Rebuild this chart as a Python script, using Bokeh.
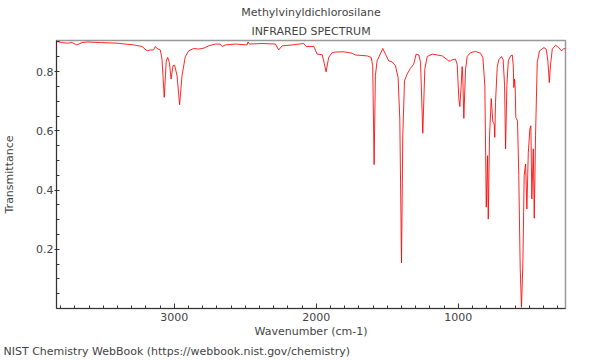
from bokeh.plotting import figure
from bokeh.models import Range1d, FixedTicker, Title
from bokeh.embed import file_html
from bokeh.resources import INLINE

# ---- data ----
wavenumber = [3822, 3791, 3756, 3721, 3686, 3650, 3615, 3521, 3404, 3287,
              3228, 3192, 3169, 3146, 3134, 3122, 3099, 3087, 3071, 3057,
              3047, 3035, 3023, 3009, 2998, 2981, 2963, 2946, 2923, 2899,
              2864, 2829, 2794, 2758, 2711, 2676, 2664, 2641, 2570, 2488,
              2481, 2471, 2382, 2288, 2265, 2241, 2171, 2089, 2072, 2018,
              1994, 1959, 1948, 1931, 1913, 1889, 1865, 1807, 1748, 1724,
              1642, 1614, 1603, 1593, 1584, 1572, 1553, 1532, 1513, 1490,
              1466, 1443, 1424, 1412, 1400, 1391, 1379, 1360, 1337, 1314,
              1297, 1278, 1266, 1250, 1236, 1219, 1184, 1113, 1078, 1067,
              1055, 1043, 1020, 1008, 996, 989, 980, 973, 968, 961,
              949, 937, 914, 879, 844, 827, 813, 803, 794, 789,
              780, 768, 757, 747, 743, 738, 726, 715, 696, 684,
              674, 667, 658, 648, 632, 620, 613, 609, 604, 599,
              595, 583, 574, 564, 555, 545, 536, 526, 517, 507,
              496, 489, 482, 472, 465, 456, 444, 428, 397, 381,
              369, 359, 350, 338, 315, 292, 273, 257, 245]
transmittance = [0.901, 0.898, 0.896, 0.898, 0.890, 0.898, 0.900, 0.898, 0.896, 0.890,
                 0.885, 0.870, 0.873, 0.873, 0.885, 0.878, 0.873, 0.842, 0.713, 0.836,
                 0.848, 0.831, 0.775, 0.820, 0.822, 0.786, 0.688, 0.786, 0.850, 0.870,
                 0.878, 0.876, 0.879, 0.887, 0.893, 0.893, 0.885, 0.890, 0.893, 0.890,
                 0.900, 0.893, 0.895, 0.893, 0.873, 0.887, 0.890, 0.895, 0.885, 0.885,
                 0.859, 0.857, 0.836, 0.799, 0.848, 0.864, 0.866, 0.867, 0.862, 0.856,
                 0.853, 0.848, 0.820, 0.486, 0.786, 0.836, 0.856, 0.878, 0.859, 0.836,
                 0.833, 0.820, 0.780, 0.640, 0.154, 0.583, 0.769, 0.792, 0.811, 0.825,
                 0.859, 0.856, 0.831, 0.592, 0.808, 0.851, 0.859, 0.853, 0.840, 0.836,
                 0.836, 0.840, 0.842, 0.825, 0.707, 0.682, 0.752, 0.817, 0.775, 0.642,
                 0.808, 0.851, 0.864, 0.868, 0.862, 0.848, 0.752, 0.342, 0.516, 0.302,
                 0.583, 0.709, 0.631, 0.623, 0.578, 0.696, 0.814, 0.840, 0.851, 0.840,
                 0.752, 0.539, 0.752, 0.836, 0.853, 0.856, 0.820, 0.746, 0.775, 0.741,
                 0.645, 0.634, 0.449, 0.134, 0.004, 0.156, 0.449, 0.488, 0.336, 0.527,
                 0.606, 0.617, 0.370, 0.539, 0.305, 0.583, 0.831, 0.870, 0.881, 0.876,
                 0.836, 0.763, 0.825, 0.876, 0.889, 0.881, 0.870, 0.878, 0.876]

x_major_ticks = [1000, 2000, 3000]
x_minor_ticks = [w for w in range(300, 3900, 100) if w not in (1000, 2000, 3000)]
y_major_ticks = [0.2, 0.4, 0.6, 0.8]
y_minor_ticks = [0.05, 0.1, 0.15, 0.25, 0.3, 0.35, 0.45, 0.5, 0.55, 0.65, 0.7, 0.75, 0.85, 0.9]

title_line_1 = "Methylvinyldichlorosilane"
title_line_2 = "INFRARED SPECTRUM"
x_label = "Wavenumber (cm-1)"
y_label = "Transmittance"
footer_text = "NIST Chemistry WebBook (https://webbook.nist.gov/chemistry)"

FONT = "DejaVu Sans"
FS = "11px"

p = figure(width=600, height=360, output_backend="svg", toolbar_location=None,
           x_range=Range1d(3830, 245), y_range=Range1d(0.0, 0.905),
           min_border_left=56, min_border_right=35, min_border_top=40, min_border_bottom=52)

p.line(wavenumber, transmittance, line_color="#ff0000", line_width=1, line_alpha=0.85)

# titles
t2 = Title(text=title_line_2, align="center", text_font=FONT, text_font_size=FS,
           text_font_style="normal", standoff=6)
p.add_layout(t2, "above")
p.title.text = title_line_1
p.title.align = "center"
p.title.text_font = FONT
p.title.text_font_size = FS
p.title.text_font_style = "normal"
p.title.standoff = 2

# footer
foot = Title(text=footer_text, align="left", offset=-53, text_font=FONT, text_font_size=FS,
             text_font_style="normal", standoff=4)
p.add_layout(foot, "below")

p.xgrid.visible = False
p.ygrid.visible = False
p.background_fill_color = "white"
p.border_fill_color = "white"
p.outline_line_color = "#999999"
p.outline_line_width = 1.5

xa = p.xaxis[0]
xa.ticker = FixedTicker(ticks=x_major_ticks, minor_ticks=x_minor_ticks)
xa.axis_label = x_label
xa.axis_label_text_font = FONT
xa.axis_label_text_font_size = FS
xa.axis_label_text_font_style = "normal"
xa.axis_label_standoff = 1
xa.major_label_text_font = FONT
xa.major_label_text_font_size = FS
xa.major_label_standoff = 4
xa.major_tick_in = 5
xa.major_tick_out = 0
xa.minor_tick_in = 3
xa.minor_tick_out = 0
xa.axis_line_color = "#333333"
xa.major_tick_line_color = "#333333"
xa.minor_tick_line_color = "#333333"

ya = p.yaxis[0]
ya.ticker = FixedTicker(ticks=y_major_ticks, minor_ticks=y_minor_ticks)
ya.axis_label = y_label
ya.axis_label_text_font = FONT
ya.axis_label_text_font_size = FS
ya.axis_label_text_font_style = "normal"
ya.axis_label_standoff = 17
ya.major_label_text_font = FONT
ya.major_label_text_font_size = FS
ya.major_label_standoff = 1
ya.major_tick_in = 3
ya.major_tick_out = 2
ya.minor_tick_in = 3
ya.minor_tick_out = 0
ya.axis_line_color = "#333333"
ya.major_tick_line_color = "#333333"
ya.minor_tick_line_color = "#333333"

open("out.html", "w").write(file_html(p, INLINE))
